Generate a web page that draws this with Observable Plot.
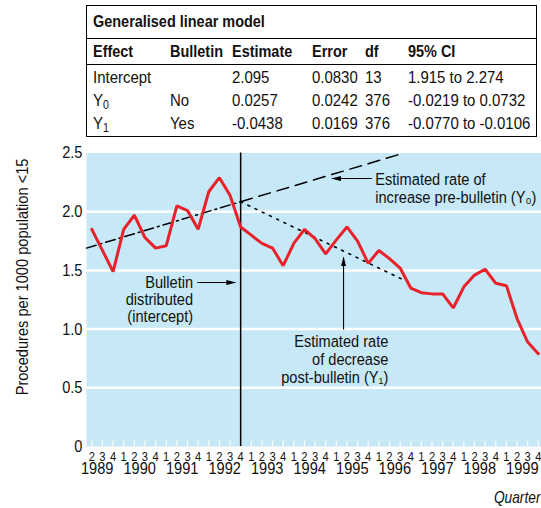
<!DOCTYPE html>
<html><head><meta charset="utf-8">
<script src="https://cdn.jsdelivr.net/npm/d3@7"></script>
<script src="https://cdn.jsdelivr.net/npm/@observablehq/plot@0.6"></script>
<style>
body{margin:0;background:#fff;}
#wrap{position:relative;width:541px;height:508px;overflow:hidden;font-family:"Liberation Sans",Arial,sans-serif;color:#111}
#tbl{position:absolute;left:86px;top:5px;width:451px;box-sizing:border-box;border:1.5px solid #000;font-size:17px}
.row{display:grid;grid-template-columns:77px 62px 80px 53px 43px auto;padding-left:6px;align-items:center}
.title{height:31.5px;line-height:31.5px;padding-left:6px;border-bottom:1px solid #000;font-weight:bold}
.head{height:26px;border-bottom:1px solid #000;font-weight:bold;padding-top:1px;box-sizing:border-box}
.body{height:23px}
.first{margin-top:2px}
.c{display:inline-block;white-space:nowrap;transform:scaleX(0.88);transform-origin:0 50%}
.title .c,.head .c{transform:scaleX(0.85)}
sub{font-size:12px;vertical-align:-3px;line-height:0}
#chart{position:absolute;left:0;top:140px}
</style></head>
<body><div id="wrap"><div id="tbl"></div><div id="chart"></div></div>
<script>
// ---- data ----
const tableTitle = "Generalised linear model";
const tableHeader = ["Effect", "Bulletin", "Estimate", "Error", "df", "95% CI"];
const tableRows = [
  ["Intercept", "", "2.095", "0.0830", "13", "1.915 to 2.274"],
  ["Y<sub>0</sub>", "No", "0.0257", "0.0242", "376", "-0.0219 to 0.0732"],
  ["Y<sub>1</sub>", "Yes", "-0.0438", "0.0169", "376", "-0.0770 to -0.0106"]
];
// quarter labels 1989 Q2 .. 1999 Q4 (index 0..42)
const quarterLabels = [2,3,4, 1,2,3,4, 1,2,3,4, 1,2,3,4, 1,2,3,4, 1,2,3,4, 1,2,3,4, 1,2,3,4, 1,2,3,4, 1,2,3,4, 1,2,3,4];
const years = [1989,1990,1991,1992,1993,1994,1995,1996,1997,1998,1999];
const yearCenters = [0.5,4.5,8.5,12.5,16.5,20.5,24.5,28.5,32.5,36.5,40.5];
const rates = [1.85,1.67,1.49,1.85,1.97,1.78,1.69,1.71,2.05,2.01,1.85,2.17,2.29,2.14,1.87,1.80,1.73,1.69,1.54,1.73,1.85,1.77,1.64,1.76,1.87,1.75,1.56,1.67,1.60,1.52,1.35,1.31,1.30,1.30,1.18,1.36,1.46,1.51,1.39,1.37,1.09,0.89,0.79];
const bulletinQuarter = 14;
const trendPreQ = [-0.5, 14];      const trendPreV = [1.69, 2.085];
const trendExtQ = [14, 29];        const trendExtV = [2.085, 2.49];
const trendPostQ = [14, 29.3];     const trendPostV = [2.085, 1.42];
const yTicks = [0, 0.5, 1.0, 1.5, 2.0, 2.5];
const gridValues = [0.5, 1.0, 1.5, 2.0];

// ---- table ----
const tbl = document.getElementById("tbl");
let html = `<div class="title"><span class="c">${tableTitle}</span></div>`;
html += `<div class="row head">${tableHeader.map(h => `<div><span class="c">${h}</span></div>`).join("")}</div>`;
tableRows.forEach((r, i) => {
  html += `<div class="row body${i === 0 ? " first" : ""}">${r.map(c => `<div><span class="c">${c}</span></div>`).join("")}</div>`;
});
tbl.innerHTML = html;

// ---- chart ----
const font = '"Liberation Sans",Arial,sans-serif';
const series = rates.map((v, i) => ({q: i, v}));
const mk = (qs, vs) => qs.map((q, i) => ({q, v: vs[i]}));
const qIdx = quarterLabels.map((_, i) => i);

const annotations = [
  {text: "Estimated rate of\nincrease pre-bulletin (Y\u2080)", q: 26.66, v: 2.198, anchor: "start", lh: 1.06},
  {text: "Bulletin\ndistributed\n(intercept)", q: 9.53, v: 1.252, anchor: "end", lh: 1.0},
  {text: "Estimated rate\nof decrease\npost-bulletin (Y\u2081)", q: 27.9, v: 0.745, anchor: "end", lh: 1.06}
];
const arrows = [
  {q1: 26.35, v1: 2.283, q2: 22.6, v2: 2.283},
  {q1: 9.93, v1: 1.397, q2: 13.5, v2: 1.397},
  {q1: 23.68, v1: 0.997, q2: 23.68, v2: 1.61}
];

// filled, narrow arrowhead marker
function filledHead(color) {
  const m = d3.create("svg:marker")
    .attr("viewBox", "0 -3 10 6").attr("markerWidth", 10).attr("markerHeight", 6)
    .attr("markerUnits", "userSpaceOnUse").attr("orient", "auto").attr("refX", 9).attr("refY", 0)
    .attr("fill", "black").attr("stroke", "none");
  m.append("path").attr("d", "M0,-2.6L10,0L0,2.6Z");
  return m.node();
}
let arrowMark;
try {
  arrowMark = Plot.link(arrows, {x1: "q1", y1: "v1", x2: "q2", y2: "v2", stroke: "black", strokeWidth: 1.1, markerEnd: filledHead});
} catch (e) {
  arrowMark = Plot.arrow(arrows, {x1: "q1", y1: "v1", x2: "q2", y2: "v2", stroke: "black", strokeWidth: 1.2, headAngle: 28, headLength: 9});
}

const chart = Plot.plot({
  width: 541, height: 368,
  marginLeft: 86, marginRight: 0, marginTop: 12.5, marginBottom: 62,
  x: {domain: [-0.5, 42.3], axis: null},
  y: {domain: [0, 2.5], axis: null},
  style: {fontFamily: font, fontSize: "17px", background: "white", color: "#111"},
  marks: [
    Plot.frame({fill: "#c6e8f7", stroke: null}),
    Plot.ruleY(gridValues, {stroke: "white", strokeWidth: 2.5}),
    Plot.ruleX(qIdx, {y1: 0, y2: 0.045, stroke: "white", strokeWidth: 1.2}),
    Plot.axisY(yTicks, {tickSize: 0, tickPadding: 4, fontSize: 17, tickFormat: d => d === 0 ? "0" : d.toFixed(1), label: null}),
    Plot.axisX(qIdx, {tickSize: 0, tickPadding: 5, fontSize: 13, tickFormat: i => String(quarterLabels[i]), label: null}),
    Plot.text(years, {x: (d, i) => yearCenters[i], text: d => String(d), frameAnchor: "bottom", lineAnchor: "middle", dy: 22, fontSize: 17}),
    Plot.text(["Quarter"], {frameAnchor: "bottom-right", lineAnchor: "middle", dy: 51, dx: -1, textAnchor: "end", fontStyle: "italic", fontSize: 16}),
    Plot.text(["Procedures per 1000 population <15"], {frameAnchor: "left", y: 1.444, dx: -64, rotate: -90, textAnchor: "middle", lineAnchor: "middle", fontSize: 17}),
    Plot.line(mk(trendPreQ, trendPreV), {x: "q", y: "v", stroke: "black", strokeWidth: 1.5, strokeDasharray: "10,4,2,4"}),
    Plot.line(mk(trendExtQ, trendExtV), {x: "q", y: "v", stroke: "black", strokeWidth: 1.5, strokeDasharray: "12,7"}),
    Plot.line(mk(trendPostQ, trendPostV), {x: "q", y: "v", stroke: "black", strokeWidth: 1.6, strokeDasharray: "2,6"}),
    Plot.ruleX([bulletinQuarter], {y1: 0, y2: 2.5, stroke: "black", strokeWidth: 1.5}),
    Plot.line(series, {x: "q", y: "v", stroke: "#e8212b", strokeWidth: 3, strokeLinejoin: "miter"}),
    arrowMark,
    ...annotations.map(a => Plot.text([a], {x: "q", y: "v", text: "text", textAnchor: a.anchor, lineHeight: a.lh, fontSize: 17}))
  ]
});
// emulate a condensed typeface: narrow every text horizontally along its own baseline
d3.select(chart).selectAll("text").each(function() {
  const t = this.getAttribute("transform") || "";
  this.setAttribute("transform", (t + " scale(0.86,1)").trim());
});
document.getElementById("chart").append(chart);
</script></body></html>
